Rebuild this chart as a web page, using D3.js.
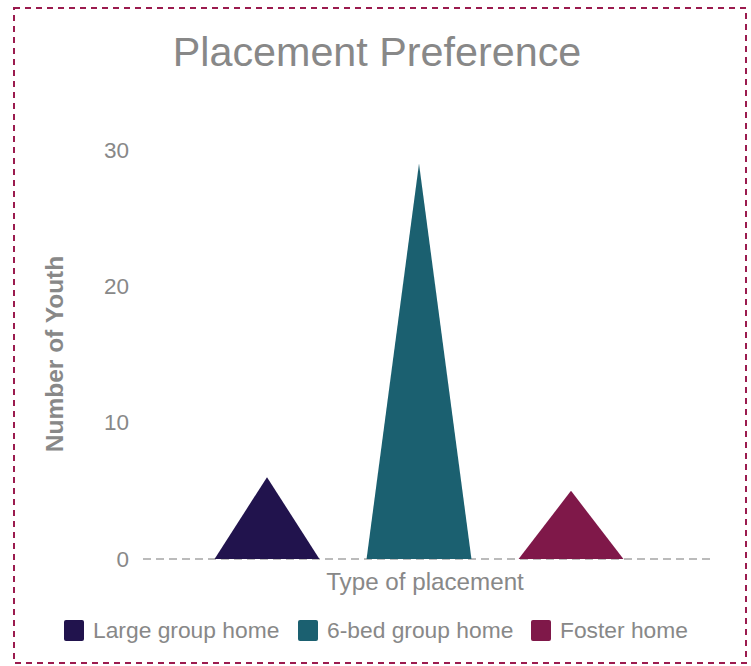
<!DOCTYPE html>
<html><head><meta charset="utf-8">
<script src="https://cdn.jsdelivr.net/npm/d3@7"></script>
<style>html,body{margin:0;padding:0;background:#fff;}svg{display:block;}</style>
</head><body>
<script>
const categories = ["Large group home", "6-bed group home", "Foster home"];
const values = [6, 29, 5];
const colors = ["#21134d", "#1b6070", "#7f1849"];
const yTicks = [0, 10, 20, 30];

const W = 751, H = 666;
const svg = d3.select("body").append("svg").attr("width", W).attr("height", H);
const font = "'Liberation Sans', Arial, sans-serif";
const gray = "#888888";

svg.append("rect").attr("x", 14).attr("y", 8).attr("width", 732).attr("height", 655)
  .attr("fill", "none").attr("stroke", "#9b1b4e").attr("stroke-width", 2).attr("stroke-dasharray", "6,5");

svg.append("text").attr("x", 377).attr("y", 66).attr("text-anchor", "middle")
  .attr("font-family", font).attr("font-size", 41.3).attr("fill", gray).text("Placement Preference");

const x = d3.scaleBand().domain(categories).range([191, 647]).paddingInner(0.31).paddingOuter(0.155);
const y = d3.scaleLinear().domain([0, 30]).range([559, 150]);

// baseline
svg.append("line").attr("x1", 143).attr("x2", 712).attr("y1", y(0)).attr("y2", y(0))
  .attr("stroke", "#bbbbbb").attr("stroke-width", 2).attr("stroke-dasharray", "8,5");

// y axis
const yAxis = d3.axisLeft(y).tickValues(yTicks).tickSize(0).tickPadding(0);
const ga = svg.append("g").attr("transform", "translate(129,0)").call(yAxis);
ga.select(".domain").remove();
ga.selectAll("text").attr("font-family", font).attr("font-size", 22.5).attr("fill", gray);

// triangles
svg.selectAll("path.tri").data(categories).enter().append("path").attr("class", "tri")
  .attr("d", (c, i) => {
    const x0 = x(c), x1 = x(c) + x.bandwidth(), xm = x(c) + x.bandwidth() / 2;
    return `M${x0},${y(0)}L${xm},${y(values[i])}L${x1},${y(0)}Z`;
  })
  .attr("fill", (c, i) => colors[i]);

// axis titles
svg.append("text").attr("transform", "translate(63,354) rotate(-90)").attr("text-anchor", "middle")
  .attr("font-family", font).attr("font-size", 24.5).attr("font-weight", "bold").attr("fill", gray).text("Number of Youth");
svg.append("text").attr("x", 425).attr("y", 590).attr("text-anchor", "middle")
  .attr("font-family", font).attr("font-size", 24.2).attr("fill", gray).text("Type of placement");

// legend
const legX = [64, 298, 531];
const lg = svg.selectAll("g.leg").data(categories).enter().append("g").attr("class", "leg")
  .attr("transform", (c, i) => `translate(${legX[i]},620)`);
lg.append("rect").attr("width", 20).attr("height", 21).attr("rx", 2).attr("fill", (c, i) => colors[i]);
lg.append("text").attr("x", 29).attr("y", 18).attr("font-family", font).attr("font-size", 22.8)
  .attr("fill", gray).text(c => c);
</script>
</body></html>
